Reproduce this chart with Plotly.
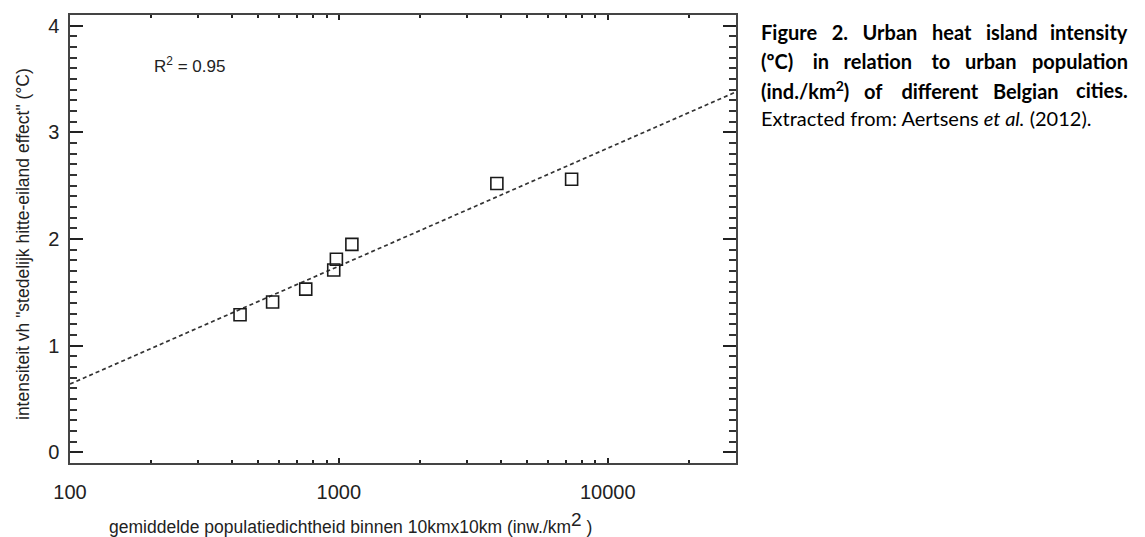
import numpy as np
import plotly.graph_objects as go

# Mean population density within 10 km x 10 km (inhabitants/km^2) and UHI intensity (degC)
density = [429, 567, 753, 957, 979, 1118, 3870, 7340]
uhi_intensity = [1.29, 1.41, 1.53, 1.71, 1.81, 1.95, 2.52, 2.56]

x_ticks = [100, 1000, 10000]
x_ticktext = ["100", "1000", "10000"]
x_minor = [200, 300, 400, 500, 600, 700, 800, 900,
           2000, 3000, 4000, 5000, 6000, 7000, 8000, 9000, 20000]
y_ticks = [0, 1, 2, 3, 4]
x_range = [100, 30000]
r_squared = "0.95"

# caption: justified lines are split into (words before the last, last word)
caption_justified = [
    (["Figure", "2.", "Urban", "heat", "island"], "intensity"),
    (["(ºC)", "in", "relation", "to", "urban"], "population"),
    (["(ind./km<sup>2</sup>)", "of", "different", "Belgian"], "cities."),
]
caption_last = "Extracted from: Aertsens <i>et al.</i> (2012)."
# extra non-breaking spaces per word gap, used to spread the justified lines
caption_pad = [
    [2, 2, 2, 2],
    [3, 2, 3, 2],
    [2, 3, 2],
]

# least-squares fit of intensity against log10(density)
slope, intercept = np.polyfit(np.log10(density), uhi_intensity, 1)
fit_x = np.array(x_range, dtype=float)
fit_y = intercept + slope * np.log10(fit_x)

W, H = 1145, 537
L, R, T, B = 70, 409, 15, 74
PW, PH = W - L - R, H - T - B


def px(xp):
    return (xp - L) / PW


def py(yp):
    return (H - B - yp) / PH


AX_COLOR = "#444444"
TXT = "#222222"
FONT = "Liberation Sans, Arial, sans-serif"
CAP_FONT = "Lato, sans-serif"

fig = go.Figure()
fig.add_trace(go.Scatter(
    x=fit_x, y=fit_y, mode="lines",
    line=dict(color="#333333", width=1.7, dash="4px,3px"),
    hoverinfo="skip", showlegend=False,
))
fig.add_trace(go.Scatter(
    x=density, y=uhi_intensity, mode="markers",
    marker=dict(symbol="square-open", size=12, color="#1a1a1a",
                line=dict(width=1.6, color="#1a1a1a")),
    showlegend=False,
))

fig.update_xaxes(
    type="log", range=[np.log10(x_range[0]), np.log10(x_range[1])],
    showline=True, linecolor=AX_COLOR, linewidth=1.5, mirror="allticks",
    ticks="inside", ticklen=5, tickwidth=1.5, tickcolor=TXT,
    tickvals=x_ticks, ticktext=x_ticktext,
    tickfont=dict(family=FONT, size=20, color=TXT),
    ticklabelstandoff=10,
    minor=dict(tickvals=x_minor, ticks="inside", ticklen=3, tickwidth=1.5,
               tickcolor=TXT),
    showgrid=False, zeroline=False,
)
fig.update_yaxes(
    range=[-0.1, 4.1],
    showline=True, linecolor=AX_COLOR, linewidth=1.5, mirror="allticks",
    ticks="inside", ticklen=13, tickwidth=1.5, tickcolor=TXT,
    tickvals=y_ticks,
    tickfont=dict(family=FONT, size=20, color=TXT),
    ticklabelstandoff=5,
    minor=dict(dtick=0.1, ticks="inside", ticklen=7, tickwidth=1.5,
               tickcolor="#333333"),
    showgrid=False, zeroline=False,
)

annotations = [
    dict(text=f"R<sup>2</sup> = {r_squared}",
         xref="paper", yref="paper", x=px(152), y=py(65),
         xanchor="left", yanchor="middle", showarrow=False,
         font=dict(family=FONT, size=17, color=TXT)),
    dict(text='intensiteit vh "stedelijk hitte-eiland effect" (°C)',
         xref="paper", yref="paper", x=px(23), y=py(244),
         xanchor="center", yanchor="middle", textangle=-90, showarrow=False,
         font=dict(family=FONT, size=17.5, color=TXT)),
    dict(text="gemiddelde populatiedichtheid binnen 10kmx10km (inw./km<sup><span style='font-size:19px'>2</span></sup> )",
         xref="paper", yref="paper", x=px(107), y=py(523),
         xanchor="left", yanchor="middle", showarrow=False,
         font=dict(family=FONT, size=17.5, color=TXT)),
]

CAP_L, CAP_R, CAP_SIZE = 759, 1130, 20
cap_y = [32, 61, 90, 118]
for (head, last), pads, yy in zip(caption_justified, caption_pad, cap_y):
    joined = head[0]
    for word, n in zip(head[1:], pads):
        joined += " " + "\u00a0" * n + word
    annotations.append(dict(
        text="<b>" + joined + "</b>", xref="paper", yref="paper",
        x=px(CAP_L), y=py(yy), xanchor="left", yanchor="middle", showarrow=False,
        font=dict(family=CAP_FONT, size=CAP_SIZE, color="#000000"),
    ))
    annotations.append(dict(
        text="<b>" + last + "</b>", xref="paper", yref="paper",
        x=px(CAP_R), y=py(yy), xanchor="right", yanchor="middle", showarrow=False,
        font=dict(family=CAP_FONT, size=CAP_SIZE, color="#000000"),
    ))
annotations.append(dict(
    text=caption_last, xref="paper", yref="paper",
    x=px(CAP_L), y=py(cap_y[3]), xanchor="left", yanchor="middle", showarrow=False,
    font=dict(family=CAP_FONT, size=CAP_SIZE, color="#000000"),
))

fig.update_layout(
    width=W, height=H,
    margin=dict(l=L, r=R, t=T, b=B),
    paper_bgcolor="white", plot_bgcolor="white",
    annotations=annotations,
)

fig.write_html("out.html")
